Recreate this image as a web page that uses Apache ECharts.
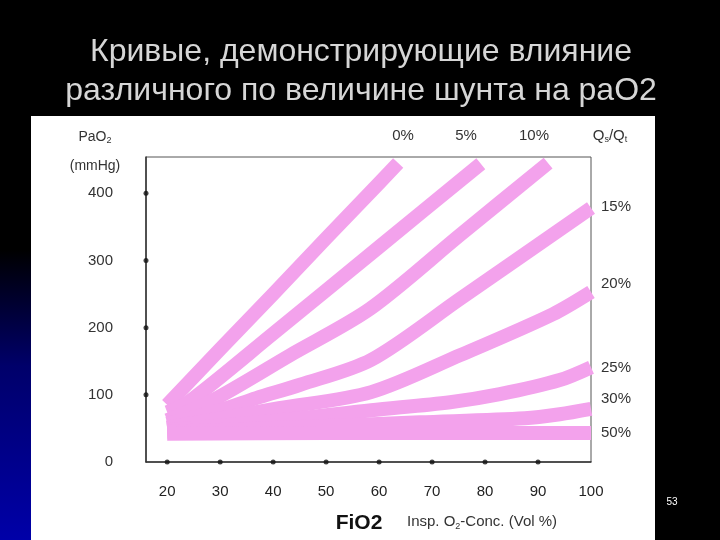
<!DOCTYPE html>
<html>
<head>
<meta charset="utf-8">
<script src="https://cdn.jsdelivr.net/npm/echarts@6/dist/echarts.min.js"></script>
<style>html,body{margin:0;padding:0;background:#000;}#c{width:720px;height:540px;}</style>
</head>
<body>
<div id="c"></div>
<script>
// ---- data ----
const fio2Ticks = [20, 30, 40, 50, 60, 70, 80, 90, 100];
const pao2Ticks = [0, 100, 200, 300, 400];
const shuntNames = ['0%', '5%', '10%', '15%', '20%', '25%', '30%', '50%'];
const shunt0  = [[20, 85], [30, 168], [40, 250], [50, 333], [60, 415], [63.6, 445]];
const shunt5  = [[20, 74], [24, 89], [40, 191], [60, 320], [79.2, 444]];
const shunt10 = [[20, 62], [28.6, 92], [43.2, 159], [58.3, 228], [75.3, 338], [91.9, 445]];
const shunt15 = [[20, 57], [30, 77], [36.8, 95], [45.1, 115], [58.5, 152], [75.3, 243], [100, 378]];
const shunt20 = [[20, 51], [41.1, 80], [58.5, 104], [75.3, 159], [92.8, 220], [100, 253]];
const shunt25 = [[20, 48], [41.3, 62], [58.5, 77], [73.4, 89], [82.8, 101], [94.1, 122], [100, 141]];
const shunt30 = [[20, 45], [45.1, 52], [67.7, 59], [87.5, 65], [94.1, 71], [100, 79]];
const shunt50 = [[20, 42], [50, 43], [80, 43], [100, 43]];
const shuntData = [shunt0, shunt5, shunt10, shunt15, shunt20, shunt25, shunt30, shunt50];
const titleLines = ['Кривые, демонстрирующие влияние', 'различного по величине шунта на раО2'];

const FONT = 'Liberation Sans, Arial, sans-serif';
const PINK = '#f3a2ec';

const chart = echarts.init(document.getElementById('c'), null, {renderer: 'canvas'});

const series = shuntData.map((d, i) => ({
  name: shuntNames[i],
  type: 'line',
  data: d,
  smooth: i === 0 ? false : 0.3,
  showSymbol: false,
  clip: false,
  silent: true,
  lineStyle: {color: PINK, width: 14, cap: 'butt', join: 'round'},
  z: 2
}));

series.push({
  type: 'scatter',
  data: fio2Ticks.filter(v => v < 100).map(v => [v, 0]).concat(pao2Ticks.filter(v => v > 0).map(v => [16, v])),
  symbol: 'circle',
  symbolSize: 5,
  clip: false,
  silent: true,
  itemStyle: {color: '#111'},
  z: 5
});

const txt = (x, y, text, extra) => Object.assign({
  type: 'text', x: x, y: y, z: 50,
  style: Object.assign({text: text, fill: '#333', font: '15px ' + FONT, align: 'center', verticalAlign: 'middle'}, extra || {})
});

const option = {
  backgroundColor: '#000',
  animation: false,
  grid: {left: 146, right: 129, top: 157, bottom: 78, show: true, borderColor: '#555', borderWidth: 1, backgroundColor: 'transparent'},
  xAxis: {
    type: 'value', min: 16, max: 100,
    axisLine: {show: true, lineStyle: {color: '#333', width: 1.5}},
    axisTick: {show: false},
    splitLine: {show: false},
    axisLabel: {customValues: fio2Ticks, margin: 22, fontSize: 15, color: '#222', fontFamily: FONT}
  },
  yAxis: {
    type: 'value', min: 0, max: 454, interval: 100,
    axisLine: {show: true, lineStyle: {color: '#333', width: 1.5}},
    axisTick: {show: false},
    splitLine: {show: false},
    axisLabel: {margin: 33, fontSize: 15, color: '#333', fontFamily: FONT, showMaxLabel: false}
  },
  graphic: [
    {type: 'rect', shape: {x: 0, y: 250, width: 31, height: 290}, z: -10,
     style: {fill: new echarts.graphic.LinearGradient(0, 0, 0, 1, [
       {offset: 0, color: '#000000'}, {offset: 0.4, color: '#00006a'}, {offset: 1, color: '#0000a8'}])}},
    {type: 'rect', shape: {x: 31, y: 116, width: 624, height: 424}, z: -9, style: {fill: '#ffffff'}},
    txt(361, 52, titleLines[0], {fill: '#d6d6d6', font: '32px ' + FONT}),
    txt(361, 91, titleLines[1], {fill: '#d6d6d6', font: '32px ' + FONT}),
    {type: 'text', x: 95, y: 137, z: 50, style: {
      text: '{a|PaO}{b|2}', align: 'center', verticalAlign: 'middle',
      rich: {a: {fontSize: 14, fontFamily: FONT, fill: '#333', lineHeight: 16}, b: {fontSize: 9, fontFamily: FONT, fill: '#333', lineHeight: 16, verticalAlign: 'bottom'}}}},
    txt(95, 166, '(mmHg)', {font: '14px ' + FONT}),
    txt(403, 136, shuntNames[0]),
    txt(466, 136, shuntNames[1]),
    txt(534, 136, shuntNames[2]),
    {type: 'text', x: 610, y: 136, z: 50, style: {
      text: '{a|Q}{b|s}{a|/Q}{b|t}', align: 'center', verticalAlign: 'middle',
      rich: {a: {fontSize: 15, fontFamily: FONT, fill: '#333', lineHeight: 16}, b: {fontSize: 9, fontFamily: FONT, fill: '#333', lineHeight: 16, verticalAlign: 'bottom'}}}},
    txt(601, 207, shuntNames[3], {align: 'left'}),
    txt(601, 284, shuntNames[4], {align: 'left'}),
    txt(601, 368, shuntNames[5], {align: 'left'}),
    txt(601, 399, shuntNames[6], {align: 'left'}),
    txt(601, 433, shuntNames[7], {align: 'left'}),
    txt(359, 523, 'FiO2', {font: 'bold 21px ' + FONT, fill: '#111'}),
    {type: 'text', x: 407, y: 522, z: 50, style: {
      text: '{a|Insp. O}{b|2}{a|-Conc. (Vol %)}', align: 'left', verticalAlign: 'middle',
      rich: {a: {fontSize: 15, fontFamily: FONT, fill: '#333', lineHeight: 18}, b: {fontSize: 9, fontFamily: FONT, fill: '#333', lineHeight: 18, verticalAlign: 'bottom'}}}},
    txt(672, 502, '53', {fill: '#ffffff', font: '10px ' + FONT})
  ],
  series: series
};
chart.setOption(option);
</script>
</body>
</html>
